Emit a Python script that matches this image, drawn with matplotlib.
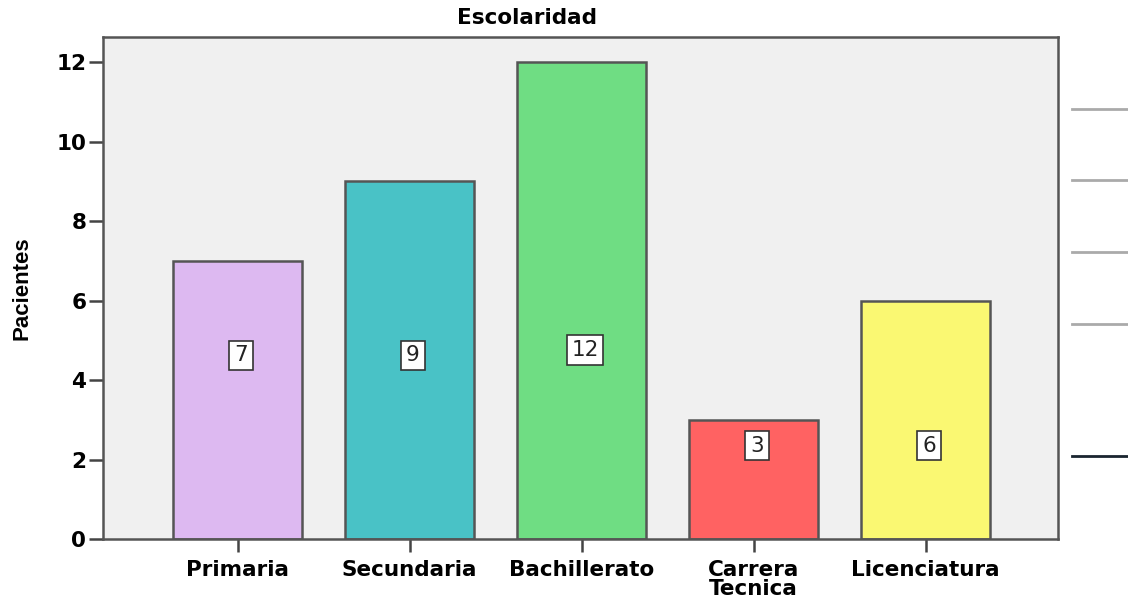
import matplotlib
matplotlib.use("Agg")
import matplotlib.pyplot as plt
from matplotlib.lines import Line2D
from matplotlib import font_manager

categories = ["Primaria", "Secundaria", "Bachillerato", "Carrera\nTecnica", "Licenciatura"]
values = [7, 9, 12, 3, 6]
colors = ["#DDB9F1", "#49C2C6", "#6FDD83", "#FF6262", "#FAF872"]
label_y = [4.62, 4.62, 4.75, 2.35, 2.35]
yticks = [0, 2, 4, 6, 8, 10, 12]

names = {f.name for f in font_manager.fontManager.ttflist}
narrow = "Liberation Sans Narrow" if "Liberation Sans Narrow" in names else "Liberation Sans"

fig = plt.figure(figsize=(11.28, 5.99), dpi=100)
ax = fig.add_axes([103/1128, 1-539/599, (1058-103)/1128, (539-37)/599])
ax.set_facecolor("#F0F0F0")
x = list(range(len(categories)))
ax.bar(x, values, width=0.75, color=colors, edgecolor="#555555", linewidth=1.8, zorder=2)
for xi, v, ly in zip(x, values, label_y):
    ax.text(xi + 0.02, ly, str(v), ha="center", va="center", fontsize=15.5, color="#222222",
            family="DejaVu Sans",
            bbox=dict(boxstyle="square,pad=0.22", fc="white", ec="#333333", lw=1.2), zorder=3)
ax.set_xlim(-0.782, 4.77)
ax.set_ylim(0, 12.63)
ax.set_yticks(yticks)
ax.set_yticklabels([str(t) for t in yticks], fontsize=15.5, fontweight="bold", family="DejaVu Sans")
ax.set_xticks(x)
ax.set_xticklabels(categories, fontsize=15.5, fontweight="bold", linespacing=0.95, family="DejaVu Sans")
ax.tick_params(axis="y", length=10, width=1.8, color="#444444", pad=2)
ax.tick_params(axis="x", length=9, width=1.8, color="#444444", pad=6)
for s in ax.spines.values():
    s.set_color("#555555")
    s.set_linewidth(1.8)
fig.text(527/1128, 1-18/599, "Escolaridad", ha="center", va="center", fontsize=15.5,
         fontweight="bold", family="DejaVu Sans")
fig.text(22/1128, 1-288/599, "Pacientes", ha="center", va="center", rotation=90,
         fontsize=16, fontweight="bold", family=narrow)

for yy, c in [(109, "#AAAAAA"), (180, "#AAAAAA"), (252, "#AAAAAA"), (324, "#AAAAAA"), (456, "#1A2530")]:
    fig.add_artist(Line2D([1072/1128, 1128/1128], [1-yy/599, 1-yy/599], color=c, lw=2, transform=fig.transFigure))

fig.savefig("out.png", dpi=100)
